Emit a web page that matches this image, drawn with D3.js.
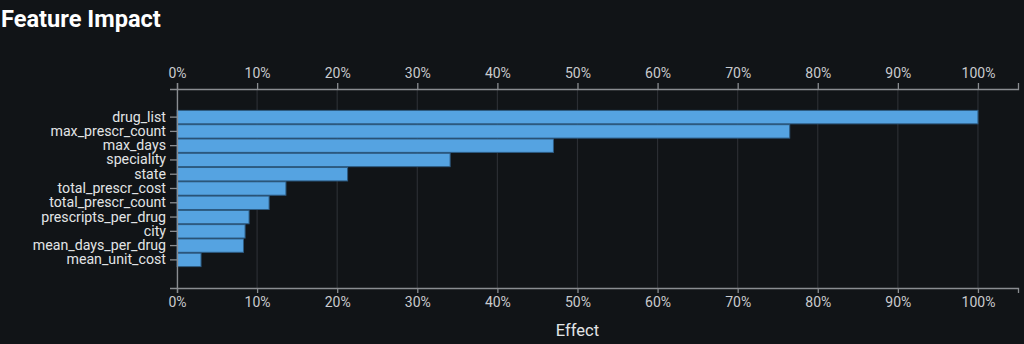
<!DOCTYPE html>
<html><head><meta charset="utf-8">
<script src="https://cdn.jsdelivr.net/npm/d3@7"></script>
<style>
html,body{margin:0;padding:0;background:#111417;}
svg{display:block;font-family:Roboto,"Noto Sans",sans-serif;}
</style></head>
<body><svg id="c" width="1024" height="344"></svg>
<script>
const features = ["drug_list","max_prescr_count","max_days","speciality","state","total_prescr_cost","total_prescr_count","prescripts_per_drug","city","mean_days_per_drug","mean_unit_cost"];
const effects = [1.000,0.765,0.470,0.341,0.213,0.136,0.115,0.090,0.085,0.083,0.030];
const tickValues = [0,0.1,0.2,0.3,0.4,0.5,0.6,0.7,0.8,0.9,1.0];
const chartTitle = "Feature Impact";
const xTitle = "Effect";

(function(){
const svg = d3.select("#c");
svg.append("rect").attr("width",1024).attr("height",344).attr("fill","#111417");

const mLeft=177, mRight=1018, mTop=89, mBottom=288;
const x = d3.scaleLinear().domain([0,1.05]).range([mLeft,mRight]);
const y = d3.scaleBand().domain(features).range([mTop,mBottom]).paddingInner(0.06).paddingOuter(1.5);

svg.append("text").text(chartTitle).attr("x",1).attr("y",27)
  .attr("fill","#ffffff").attr("font-size",23.6).attr("font-weight",700);

// grid
svg.append("g").selectAll("line").data(tickValues).join("line")
  .attr("x1",d=>x(d)).attr("x2",d=>x(d)).attr("y1",mTop).attr("y2",mBottom)
  .attr("stroke","#2b2e33").attr("stroke-width",1.2);

// bars
svg.append("g").selectAll("rect").data(features).join("rect")
  .attr("x",x(0)).attr("y",d=>y(d))
  .attr("width",(d,i)=>x(effects[i])-x(0))
  .attr("height",y.bandwidth())
  .attr("fill","#55a3e1").attr("stroke","#2d5b82").attr("stroke-width",1);

const fmt = d3.format(".0%");
function styleAxis(g, fs, col){
  g.selectAll(".domain").attr("stroke","#8a8d91").attr("stroke-width",1.3);
  g.selectAll(".tick line").attr("stroke","#8a8d91").attr("stroke-width",1.3);
  g.selectAll(".tick text").attr("fill",col).attr("font-size",fs).attr("font-family","Roboto,sans-serif");
}
const gt = svg.append("g").attr("transform",`translate(0,${mTop})`)
  .call(d3.axisTop(x).tickValues(tickValues).tickFormat(fmt).tickSize(6).tickPadding(5));
styleAxis(gt,14,"#c9cbce");
const gb = svg.append("g").attr("transform",`translate(0,${mBottom})`)
  .call(d3.axisBottom(x).tickValues(tickValues).tickFormat(fmt).tickSize(5).tickPadding(4));
styleAxis(gb,14,"#c9cbce");
const gl = svg.append("g").attr("transform",`translate(${mLeft},0)`)
  .call(d3.axisLeft(y).tickSize(7).tickPadding(4));
styleAxis(gl,14.2,"#e2e4e6");

svg.append("text").text(xTitle).attr("x",x(0.5)).attr("y",336)
  .attr("text-anchor","middle").attr("fill","#e2e4e6").attr("font-size",16.5);
})();
</script></body></html>
